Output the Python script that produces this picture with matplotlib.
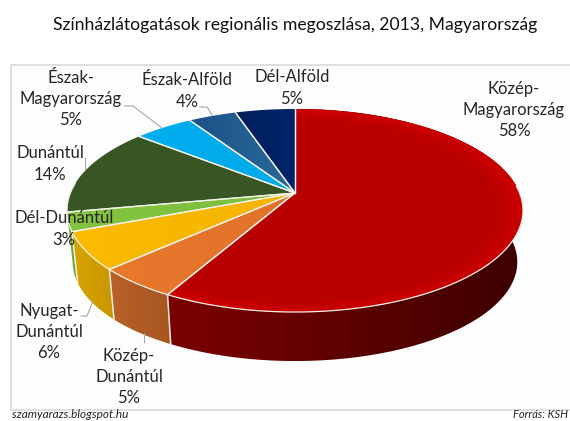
import matplotlib
matplotlib.use("Agg")
import matplotlib.pyplot as plt
import numpy as np
from matplotlib.colors import LinearSegmentedColormap
from matplotlib.patches import Polygon

plt.rcParams["font.family"] = ["Lato", "DejaVu Sans"]

title = "Színházlátogatások regionális megoszlása, 2013, Magyarország"
regions = ["Közép-\nMagyarország", "Közép-\nDunántúl", "Nyugat-\nDunántúl", "Dél-Dunántúl",
           "Dunántúl", "Észak-\nMagyarország", "Észak-Alföld", "Dél-Alföld"]
shares = [58, 5, 6, 3, 14, 5, 4, 5]

# top face colours (left, right of gradient) and side colours
top_colors = [("#b80000", "#b80000"), ("#e8782c", "#e2722a"), ("#fabb00", "#f5b400"), ("#84c440", "#7cbd3c"),
              ("#375623", "#375623"), ("#00aeef", "#00aaea"), ("#1b5288", "#2a699c"), ("#001f5c", "#00256c")]
side_colors = [("#7c0000", "#3e0000"), ("#b8622a", "#a85520"), ("#d9a400", "#c89600"), ("#6ca636", "#6ca636")]

label_x = [514, 129, 49, 64, 50, 71, 187, 292]
label_y = [110, 377, 332, 229, 164, 99, 91, 88]

# leader lines, (x points, y points)
leaders = [([125, 133, 162], [106, 106, 128]), ([200, 207, 212], [107, 107, 115]),
           ([85, 85], [158, 170]), ([81, 87, 93], [316, 316, 301]), ([144, 144], [333, 342])]

# pie projection in pixels
cx, cy = 295, 193
rx, ry = 224.6, 98.5
k = 0.1724
drop, shrink = 52, 0.975


def project(theta, low=False):
    # theta clockwise from 12 o'clock, perspective view of the disc
    u, v = np.sin(theta), np.cos(theta)
    w = 1 + k * v
    x, y = rx * u / w, -ry * v / w
    if low:
        return cx + shrink * x, cy + shrink * y + drop
    return cx + x, cy + y


def gradient_fill(ax, xy, c1, c2):
    patch = Polygon(xy, closed=True, facecolor="none", edgecolor="none", zorder=2)
    ax.add_patch(patch)
    cmap = LinearSegmentedColormap.from_list("g", [c1, c2])
    x0, x1 = xy[:, 0].min(), xy[:, 0].max()
    y0, y1 = xy[:, 1].min(), xy[:, 1].max()
    im = ax.imshow(np.linspace(0, 1, 64)[None, :], cmap=cmap, extent=(x0, x1, y1, y0),
                   aspect="auto", zorder=2, interpolation="bilinear")
    im.set_clip_path(patch)


fig = plt.figure(figsize=(5.7, 4.21), dpi=100)
ax = fig.add_axes((0, 0, 1, 1))
fig.patch.set_facecolor("white")

# chart frame
ax.add_patch(plt.Rectangle((10.5, 64.5), 570, 345, facecolor="#fdfdfd", edgecolor="#d9d9d9", linewidth=1.2, zorder=1))

edges = np.radians(np.concatenate(([0], np.cumsum(shares))) * 3.6)

# side walls first, only the front slices show one
for i in range(len(side_colors)):
    t = np.linspace(edges[i], edges[i + 1], 80)
    xt, yt = project(t)
    xl, yl = project(t, low=True)
    xy = np.column_stack((np.concatenate((xt, xl[::-1])), np.concatenate((yt, yl[::-1]))))
    gradient_fill(ax, xy, side_colors[i][0], side_colors[i][1])
for e in edges[1:4]:
    xt, yt = project(e)
    xl, yl = project(e, low=True)
    ax.plot([xt, xl], [yt, yl], color="#f4efe6", lw=1.1, zorder=3)

# top face
for i in range(len(shares)):
    t = np.linspace(edges[i], edges[i + 1], 120)
    xt, yt = project(t)
    xy = np.column_stack((np.concatenate(([cx], xt)), np.concatenate(([cy], yt))))
    gradient_fill(ax, xy, top_colors[i][0], top_colors[i][1])
    if i == 0:
        # brighter rim on the big red slice
        patch = Polygon(xy, closed=True, facecolor="none", edgecolor="none", zorder=4)
        ax.add_patch(patch)
        gx, gy = np.meshgrid(np.linspace(60, 530, 240), np.linspace(100, 320, 160))
        r = np.hypot((gx - 295) / 228, (gy - 211) / 101.5)
        cmap = LinearSegmentedColormap.from_list("rim", ["#b80000", "#cc0000"])
        im = ax.imshow(np.clip((r - 0.88) / 0.12, 0, 1), cmap=cmap, extent=(60, 530, 320, 100),
                       aspect="auto", zorder=4, vmin=0, vmax=1)
        im.set_clip_path(patch)
    # white seam between slices and along the front rim only
    ax.plot([cx, xt[0]], [cy, yt[0]], color="#f6f2ea", lw=0.9, zorder=5)
    ax.plot([cx, xt[-1]], [cy, yt[-1]], color="#f6f2ea", lw=0.9, zorder=5)
    front = np.cos(t) < 0.1
    ax.plot(xt[front], yt[front], color="#f6f2ea", lw=0.9, zorder=5)

for lx, ly in leaders:
    ax.plot(lx, ly, color="#a6a6a6", lw=0.8, zorder=6)

for name, share, x, y in zip(regions, shares, label_x, label_y):
    ax.text(x, y, f"{name}\n{share}%", ha="center", va="center", fontsize=12, color="#262626",
            linespacing=1.4, zorder=7)

ax.text(295, 25, title, ha="center", va="center", fontsize=12.7, color="#111111")
ax.text(12, 415, "szamyarazs.blogspot.hu", ha="left", va="center", fontsize=8.5, style="italic", color="#222222")
ax.text(568, 415, "Forrás: KSH", ha="right", va="center", fontsize=8, style="italic", color="#222222")

ax.set_xlim(0, 570)
ax.set_ylim(421, 0)
ax.axis("off")
fig.savefig("out.png", dpi=100)
